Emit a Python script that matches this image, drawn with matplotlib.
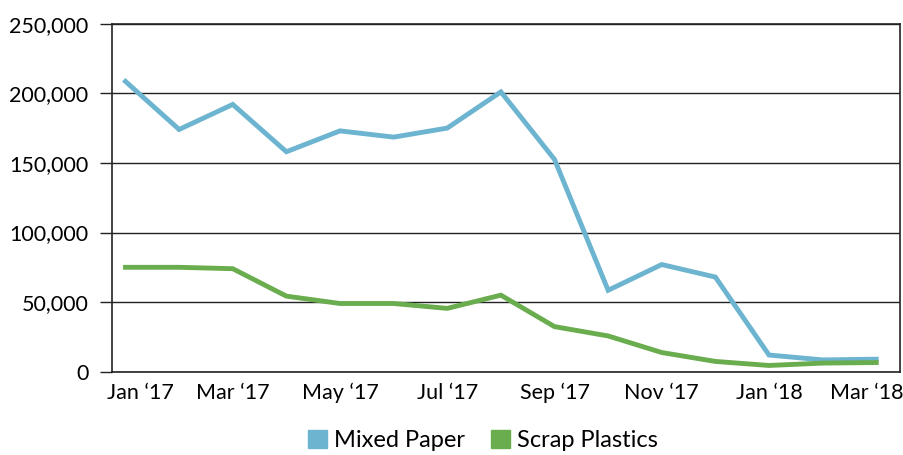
import numpy as np
import matplotlib.pyplot as plt
import matplotlib.transforms as mtransforms
from matplotlib.patches import Patch
from matplotlib.ticker import FuncFormatter

plt.rcParams['font.family'] = ['Lato', 'DejaVu Sans']

months = ['Jan \u201817', 'Feb \u201817', 'Mar \u201817', 'Apr \u201817', 'May \u201817',
          'Jun \u201817', 'Jul \u201817', 'Aug \u201817', 'Sep \u201817', 'Oct \u201817',
          'Nov \u201817', 'Dec \u201817', 'Jan \u201818', 'Feb \u201818', 'Mar \u201818']
mixed_paper = [208500, 174000, 192000, 158000, 173000, 168500, 175000, 201000,
               152500, 58500, 77000, 68000, 12000, 8500, 9000]
scrap_plastics = [75000, 75000, 74000, 54300, 49000, 49000, 45500, 55000,
                  32400, 25700, 13800, 7400, 4500, 6200, 6600]

blue = '#6cb4d0'
green = '#6aad4e'

fig = plt.figure(figsize=(9.04, 4.55), dpi=100)
ax = fig.add_axes([0.124, 0.183, 0.872, 0.765])
x = np.arange(len(months))
ax.plot(x, mixed_paper, color=blue, lw=3.5, solid_joinstyle='miter')
ax.plot(x, scrap_plastics, color=green, lw=3.5, solid_joinstyle='miter')

ax.set_xlim(-0.25, 14.45)
ax.set_ylim(0, 250000)
ax.set_yticks(np.arange(0, 250001, 50000))
ax.yaxis.set_major_formatter(FuncFormatter(lambda v, p: f'{int(v):,}'))
ax.set_xticks(x[::2])
ax.set_xticklabels(months[::2])
ax.grid(axis='y', color='#222222', lw=1)
ax.tick_params(axis='y', length=9, width=1, color='#222222', labelsize=15.5, pad=8)
ax.tick_params(axis='x', length=0, labelsize=15.5, pad=8)
for s in ax.spines.values():
    s.set_color('#222222')
    s.set_linewidth(1.2)

# first and last month labels are nudged to stay inside the frame
labels = ax.get_xticklabels()
labels[0].set_transform(labels[0].get_transform() +
                        mtransforms.ScaledTranslation(0.15, 0, fig.dpi_scale_trans))
labels[-1].set_transform(labels[-1].get_transform() +
                         mtransforms.ScaledTranslation(-0.10, 0, fig.dpi_scale_trans))

handles = [Patch(color=blue, label='Mixed Paper'), Patch(color=green, label='Scrap Plastics')]
fig.legend(handles=handles, loc='lower center', bbox_to_anchor=(0.534, -0.038), ncol=2,
           frameon=False, fontsize=17, handlelength=0.8, handleheight=0.8,
           handletextpad=0.3, columnspacing=1.1)

fig.savefig('out.png', dpi=100)
